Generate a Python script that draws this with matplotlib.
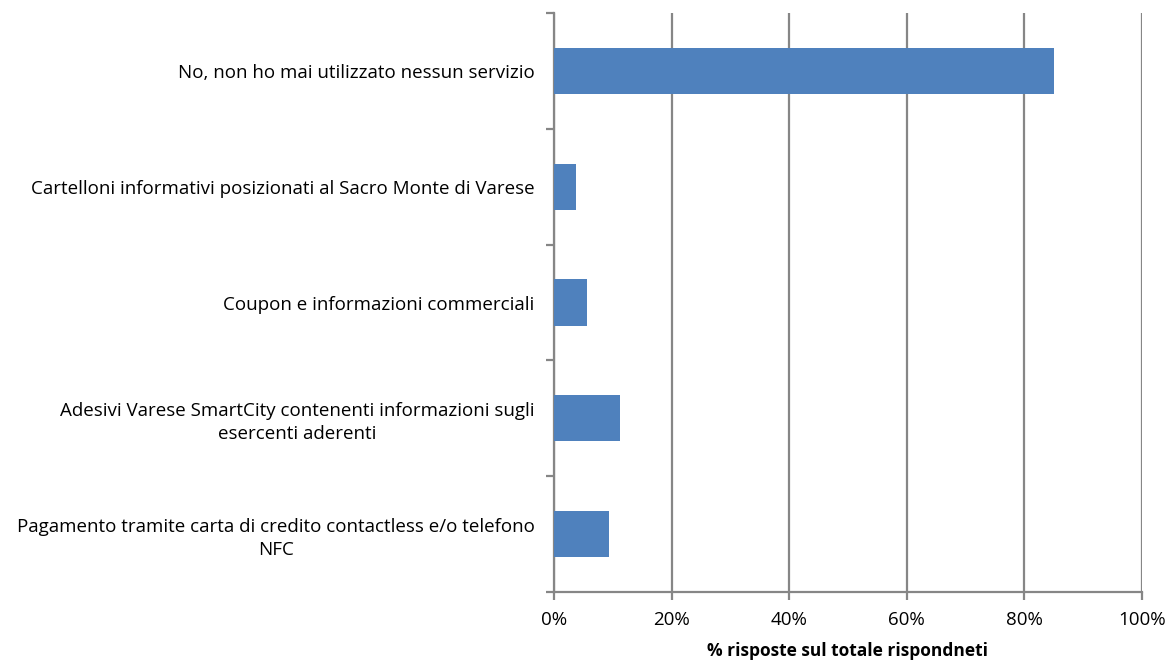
import matplotlib
matplotlib.use("Agg")
import matplotlib.pyplot as plt
import numpy as np

categories = [
    "No, non ho mai utilizzato nessun servizio",
    "Cartelloni informativi posizionati al Sacro Monte di Varese",
    "Coupon e informazioni commerciali",
    "Adesivi Varese SmartCity contenenti informazioni sugli\nesercenti aderenti",
    "Pagamento tramite carta di credito contactless e/o telefono\nNFC",
]
values = [85.0, 3.7, 5.6, 11.2, 9.35]
xticks = [0, 20, 40, 60, 80, 100]
xticklabels = ["0%", "20%", "40%", "60%", "80%", "100%"]
xlabel = "% risposte sul totale rispondneti"

plt.rcParams['font.family'] = ['Open Sans', 'DejaVu Sans']
grey = "#868686"

fig = plt.figure(figsize=(11.69, 6.61), dpi=100)
ax = fig.add_axes([554/1169, 1 - 592/661, (1142-554)/1169, (592-13)/661])

n = len(categories)
ypos = np.arange(n)
ax.barh(ypos, values, height=0.4, color="#4F81BD", zorder=3)
ax.set_ylim(n - 0.5, -0.5)
ax.set_xlim(0, 100)

ax.set_xticks(xticks)
ax.set_xticklabels(xticklabels, fontsize=13.5)
ax.xaxis.grid(True, color=grey, linewidth=1.6, zorder=0)
ax.set_axisbelow(True)

ax.set_yticks(np.arange(n + 1) - 0.5)
ax.set_yticklabels([])
ax.set_yticks(ypos, minor=True)
ax.set_yticklabels(categories, minor=True, fontsize=13.5, multialignment='center',
                   linespacing=1.35)
ax.tick_params(axis='y', which='minor', length=0, pad=14)
ax.tick_params(axis='y', which='major', length=6, width=1.6, color=grey)
ax.tick_params(axis='x', length=6, width=1.6, color=grey, pad=8)

for s in ['top', 'right']:
    ax.spines[s].set_visible(False)
for s in ['left', 'bottom']:
    ax.spines[s].set_color(grey)
    ax.spines[s].set_linewidth(1.6)

ax.set_xlabel(xlabel, fontsize=12.5, fontweight='bold', labelpad=9)

fig.savefig("out.png", dpi=100)
